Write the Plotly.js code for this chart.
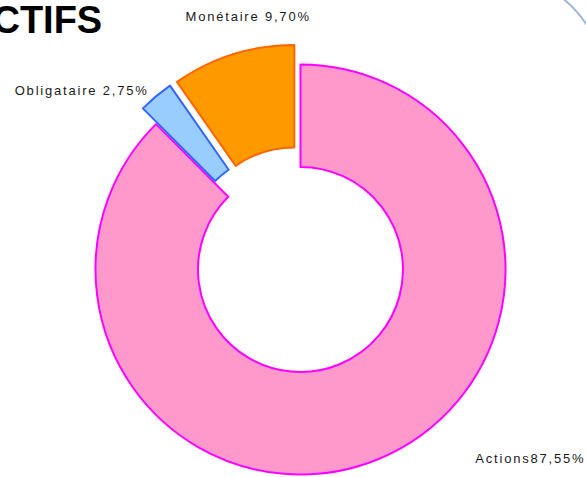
<!DOCTYPE html>
<html>
<head>
<meta charset="utf-8">
<script src="https://cdn.plot.ly/plotly-3.0.1.min.js"></script>
<style>
  html, body { margin: 0; padding: 0; overflow: hidden; background: #fff; }
  #chart { width: 586px; height: 500px; }
  g.annotation:not([data-index="0"]) text { letter-spacing: 1.8px; }
</style>
</head>
<body>
<div id="chart"></div>
<script>
// Data
const categories = ["Actions", "Obligataire", "Monétaire"];
const values = [87.55, 2.75, 9.70];
const valueLabels = ["87,55%", "2,75%", "9,70%"];
const fillColors = ["#FF99CC", "#99CCFF", "#FF9900"];
const lineColors = ["#FF00FF", "#3366FF", "#FF6600"];
const pulls = [0, 0.1, 0.1];

const W = 586, H = 500;
const px = x => x / W;
const py = y => 1 - y / H;
const SP = 1.8; // letter spacing in px
// left edge compensation for letter-spacing (Plotly centres text)
const lx = (left, txt) => px(left + txt.length * SP / 2);

const labelFont = { family: "'Liberation Sans', Arial, sans-serif", size: 13, color: "#1a1a1a" };

const lblMon = categories[2] + " " + valueLabels[2];
const lblObl = categories[1] + " " + valueLabels[1];
const lblAct = categories[0] + valueLabels[0];

const trace = {
  type: "pie",
  labels: categories,
  values: values,
  sort: false,
  direction: "clockwise",
  rotation: 0,
  hole: 0.5,
  pull: pulls,
  textinfo: "none",
  hoverinfo: "label+percent",
  marker: { colors: fillColors, line: { color: lineColors, width: 2 } },
  domain: { x: [px(75), px(526)], y: [py(495), py(44)] }
};

const layout = {
  width: W,
  height: H,
  margin: { l: 0, r: 0, t: 0, b: 0 },
  paper_bgcolor: "#ffffff",
  showlegend: false,
  annotations: [
    { text: "<b>ACTIFS</b>", xref: "paper", yref: "paper", x: px(104), y: py(20), xanchor: "right", yanchor: "middle", showarrow: false,
      font: { family: "'Liberation Sans', Arial, sans-serif", size: 38, color: "#000" } },
    { text: lblMon, xref: "paper", yref: "paper", x: lx(183, lblMon), y: py(16), xanchor: "left", yanchor: "middle", showarrow: false, font: labelFont },
    { text: lblObl, xref: "paper", yref: "paper", x: lx(13, lblObl), y: py(91), xanchor: "left", yanchor: "middle", showarrow: false, font: labelFont },
    { text: lblAct, xref: "paper", yref: "paper", x: lx(473, lblAct), y: py(458), xanchor: "left", yanchor: "middle", showarrow: false, font: labelFont }
  ],
  shapes: [
    { type: "path", xref: "paper", yref: "paper",
      path: `M ${px(561)},${py(-3)} Q ${px(578)},${py(10)} ${px(590)},${py(30)}`,
      line: { color: "#A3B5DD", width: 2 } }
  ]
};

Plotly.newPlot("chart", [trace], layout, { staticPlot: true, displayModeBar: false });
</script>
</body>
</html>
